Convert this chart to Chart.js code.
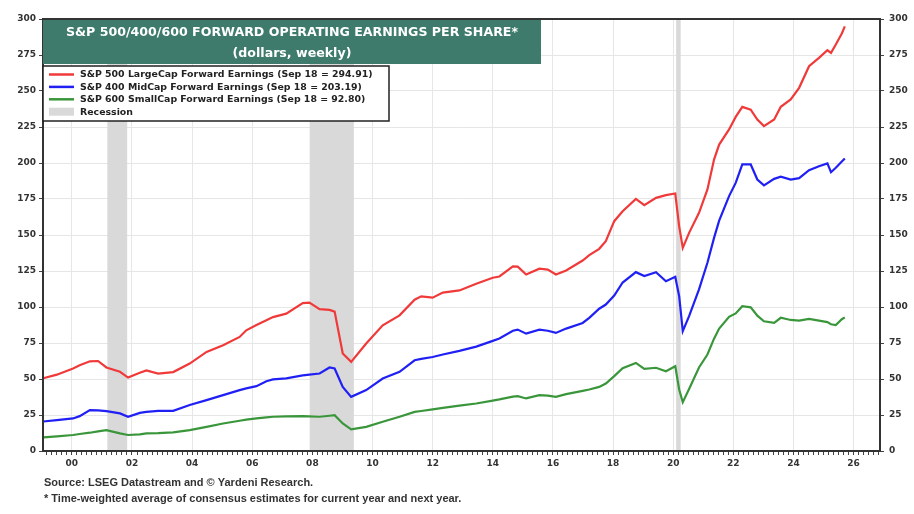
<!DOCTYPE html>
<html>
<head>
<meta charset="utf-8">
<script src="https://cdn.jsdelivr.net/npm/chart.js@4.4.1/dist/chart.umd.min.js"></script>
<style>
  html, body { margin: 0; padding: 0; background: #fff; }
  #wrap { width: 914px; height: 514px; position: relative; }
</style>
</head>
<body>
<div id="wrap"><canvas id="chart"></canvas></div>
<script>
// dates as decimal years
var dates = [
  1999.05, 1999.5, 2000.04, 2000.26, 2000.6, 2000.87, 2001.15, 2001.6, 2001.87, 2002.26,
  2002.48, 2002.87, 2003.37, 2003.92, 2004.48, 2005.03, 2005.58, 2005.8, 2006.14, 2006.47,
  2006.69, 2007.13, 2007.68, 2007.9, 2008.24, 2008.57, 2008.74, 2009.01, 2009.29, 2009.79,
  2010.34, 2010.9, 2011.4, 2011.62, 2012.0, 2012.34, 2012.89, 2013.45, 2014.0, 2014.22,
  2014.67, 2014.83, 2015.11, 2015.55, 2015.83, 2016.1, 2016.44, 2016.99, 2017.21, 2017.54,
  2017.76, 2018.04, 2018.32, 2018.76, 2019.04, 2019.43, 2019.76, 2020.07, 2020.2, 2020.32,
  2020.53, 2020.86, 2021.14, 2021.36, 2021.53, 2021.86, 2022.08, 2022.3, 2022.58, 2022.8,
  2023.02, 2023.36, 2023.58, 2023.91, 2024.19, 2024.52, 2024.85, 2025.13, 2025.25, 2025.41,
  2025.61, 2025.71
];
var sp500 = [
  50.5, 53, 57.3, 59.5, 62.3, 62.5, 58, 55, 51, 54.3,
  56, 53.8, 54.8, 60.7, 68.8, 73.4, 79.2, 83.8, 87.5, 90.8,
  93, 95.4, 102.7, 103, 98.5, 98, 96.8, 67.7, 61.9, 74.6,
  87.3, 94.2, 105.1, 107.4, 106.5, 110, 111.5, 116.2, 120.3, 121.2,
  128.2, 128, 122.6, 126.6, 126, 122.6, 125.4, 132.3, 136, 140.4,
  145.7, 159.6, 166.5, 175.1, 170.7, 175.8, 177.7, 178.8, 156, 141.1,
  151.5, 165.4, 181.6, 202.4, 212.8, 223.3, 232, 239, 237, 230.2,
  225.6, 230.2, 239, 244.1, 252.2, 267.2, 273, 278.3, 276.5, 282.3,
  290, 294.91
];
var sp400 = [
  20.5, 21.5, 22.6, 24.2, 28.4, 28.2, 27.7, 26.1, 23.8, 26.5,
  27.2, 27.9, 27.9, 31.9, 35.3, 38.8, 42.3, 43.5, 45, 48.5,
  49.7, 50.4, 52.5, 53, 53.8, 58, 57.3, 44.5, 37.6, 42.3,
  50.3, 55, 63, 64, 65.3, 67, 69.5, 72.5, 76.5, 78.1,
  83.5, 84.3, 81.5, 84.3, 83.5, 82, 85, 88.9, 92.5, 98.8,
  101.7, 108, 117, 124.2, 121.5, 124.2, 117.9, 121, 107.5, 83.2,
  93.6, 112.2, 130.7, 148, 160, 177, 186.2, 199, 199, 188.5,
  184.5, 189, 190.5, 188.5, 189.5, 195, 197.8, 199.7, 193.6, 196.7,
  201, 203.19
];
var sp600 = [
  9.5, 10.2, 11.1, 11.8, 12.7, 13.6, 14.5, 12.2, 11.1, 11.6,
  12.2, 12.4, 12.9, 14.5, 16.8, 19.1, 21, 21.8, 22.6, 23.4,
  23.8, 24, 24.2, 24, 23.8, 24.5, 24.9, 19.1, 15, 16.8,
  20.3, 23.8, 27.2, 27.8, 28.9, 30, 31.5, 33, 35, 35.8,
  37.8, 38.1, 36.5, 38.8, 38.5, 37.6, 39.5, 41.8, 42.7, 44.5,
  46.9, 52, 57.5, 61.2, 57, 57.8, 55.4, 58.9, 42.7, 33.9,
  43, 58, 67, 78, 85, 93.2, 95.5, 100.5, 99.8, 94,
  90.1, 89, 92.5, 91, 90.5, 91.8, 90.5, 89.5, 88, 87.5,
  91.5, 92.8
];
var recessions = [[2001.18, 2001.84], [2007.91, 2009.38], [2020.1, 2020.25]];
var seriesLabels = [
  'S&P 500 LargeCap Forward Earnings (Sep 18 = 294.91)',
  'S&P 400 MidCap Forward Earnings (Sep 18 = 203.19)',
  'S&P 600 SmallCap Forward Earnings (Sep 18 = 92.80)'
];
var seriesColors = ['#f03a3a', '#2020f5', '#3a963a'];
var titleLines = ['S&P 500/400/600 FORWARD OPERATING EARNINGS PER SHARE*', '(dollars, weekly)'];
var notes = [
  'Source: LSEG Datastream and \u00a9 Yardeni Research.',
  '* Time-weighted average of consensus estimates for current year and next year.'
];

// x axis runs in months since Jan 2000
function toMonths(yr) { return (yr - 2000) * 12; }

function points(values) {
  return dates.map(function (d, i) { return { x: toMonths(d), y: values[i] }; });
}

var overlay = {
  id: 'overlay',
  beforeDatasetsDraw: function (chart) {
    var ctx = chart.ctx, ca = chart.chartArea, xs = chart.scales.x;
    ctx.save();
    ctx.fillStyle = '#d9d9d9';
    recessions.forEach(function (r) {
      var a = xs.getPixelForValue(toMonths(r[0]));
      var b = xs.getPixelForValue(toMonths(r[1]));
      ctx.fillRect(a, ca.top, b - a, ca.bottom - ca.top);
    });
    ctx.restore();
  },
  afterDraw: function (chart) {
    var ctx = chart.ctx, ca = chart.chartArea;
    ctx.save();
    // frame
    ctx.strokeStyle = '#333';
    ctx.lineWidth = 2;
    ctx.strokeRect(ca.left, ca.top, ca.right - ca.left, ca.bottom - ca.top);

    // title box
    ctx.fillStyle = '#3e7b6c';
    ctx.fillRect(ca.left, ca.top + 1, 498, 44);
    ctx.fillStyle = '#fff';
    ctx.textAlign = 'center';
    ctx.textBaseline = 'middle';
    ctx.font = 'bold 12.6px "DejaVu Sans"';
    ctx.fillText(titleLines[0], ca.left + 249, ca.top + 14);
    ctx.fillText(titleLines[1], ca.left + 249, ca.top + 35);

    // legend box
    var lx = ca.left, ly = ca.top + 47;
    ctx.fillStyle = '#fff';
    ctx.fillRect(lx, ly, 346, 55);
    ctx.strokeStyle = '#222';
    ctx.lineWidth = 1.5;
    ctx.strokeRect(lx, ly, 346, 55);
    ctx.textAlign = 'left';
    ctx.font = 'bold 9.4px "DejaVu Sans"';
    for (var i = 0; i < 4; i++) {
      var ry = ly + 8.5 + i * 12.4;
      if (i < 3) {
        ctx.strokeStyle = seriesColors[i];
        ctx.lineWidth = 2.5;
        ctx.beginPath();
        ctx.moveTo(lx + 6, ry);
        ctx.lineTo(lx + 31, ry);
        ctx.stroke();
      } else {
        ctx.fillStyle = '#d9d9d9';
        ctx.fillRect(lx + 6, ry - 4, 25, 8);
      }
      ctx.fillStyle = '#222';
      ctx.fillText(i < 3 ? seriesLabels[i] : 'Recession', lx + 37, ry + 0.5);
    }

    // footnotes
    ctx.font = 'bold 11px "Liberation Sans"';
    ctx.fillStyle = '#333';
    ctx.fillText(notes[0], ca.left + 1, 483);
    ctx.fillText(notes[1], ca.left + 1, 499);
    ctx.restore();
  }
};

var tickFont = { family: 'DejaVu Sans', size: 9, weight: 'bold' };

function isLabelMonth(v) {
  var r = Math.round(v);
  return Math.abs(v - r) < 0.01 && r % 24 === 0;
}

new Chart(document.getElementById('chart'), {
  type: 'line',
  data: {
    datasets: [
      { label: seriesLabels[0], data: points(sp500), borderColor: seriesColors[0] },
      { label: seriesLabels[1], data: points(sp400), borderColor: seriesColors[1] },
      { label: seriesLabels[2], data: points(sp600), borderColor: seriesColors[2] }
    ]
  },
  options: {
    responsive: true,
    maintainAspectRatio: false,
    animation: false,
    layout: { padding: { top: 19, left: 0, right: 0, bottom: 0 } },
    elements: {
      line: { borderWidth: 2.2, tension: 0 },
      point: { radius: 0 }
    },
    plugins: {
      legend: { display: false },
      title: { display: false },
      tooltip: { enabled: false }
    },
    scales: {
      x: {
        type: 'linear',
        min: toMonths(1999.04),
        max: toMonths(2026.88),
        border: { display: false },
        grid: {
          color: function (c) { return c.tick && isLabelMonth(c.tick.value) ? '#e6e6e6' : 'rgba(0,0,0,0)'; },
          tickColor: '#444',
          tickLength: 4
        },
        ticks: {
          stepSize: 2,
          autoSkip: false,
          maxRotation: 0,
          includeBounds: false,
          padding: 3,
          color: '#333',
          font: tickFont,
          callback: function (v) {
            if (!isLabelMonth(v)) return '';
            var yr = 2000 + Math.round(v) / 12;
            return String(yr).slice(2);
          }
        },
        afterFit: function (s) { s.height = 63; }
      },
      y: {
        position: 'left',
        min: 0,
        max: 300,
        border: { display: false },
        grid: { color: '#e6e6e6', tickColor: '#444', tickLength: 4 },
        ticks: { stepSize: 25, padding: 3, color: '#333', font: tickFont },
        afterFit: function (s) { s.width = 43; }
      },
      y2: {
        position: 'right',
        min: 0,
        max: 300,
        border: { display: false },
        grid: { drawOnChartArea: false, tickColor: '#444', tickLength: 4 },
        ticks: { stepSize: 25, padding: 5, color: '#333', font: tickFont },
        afterFit: function (s) { s.width = 34; }
      }
    }
  },
  plugins: [overlay]
});
</script>
</body>
</html>
